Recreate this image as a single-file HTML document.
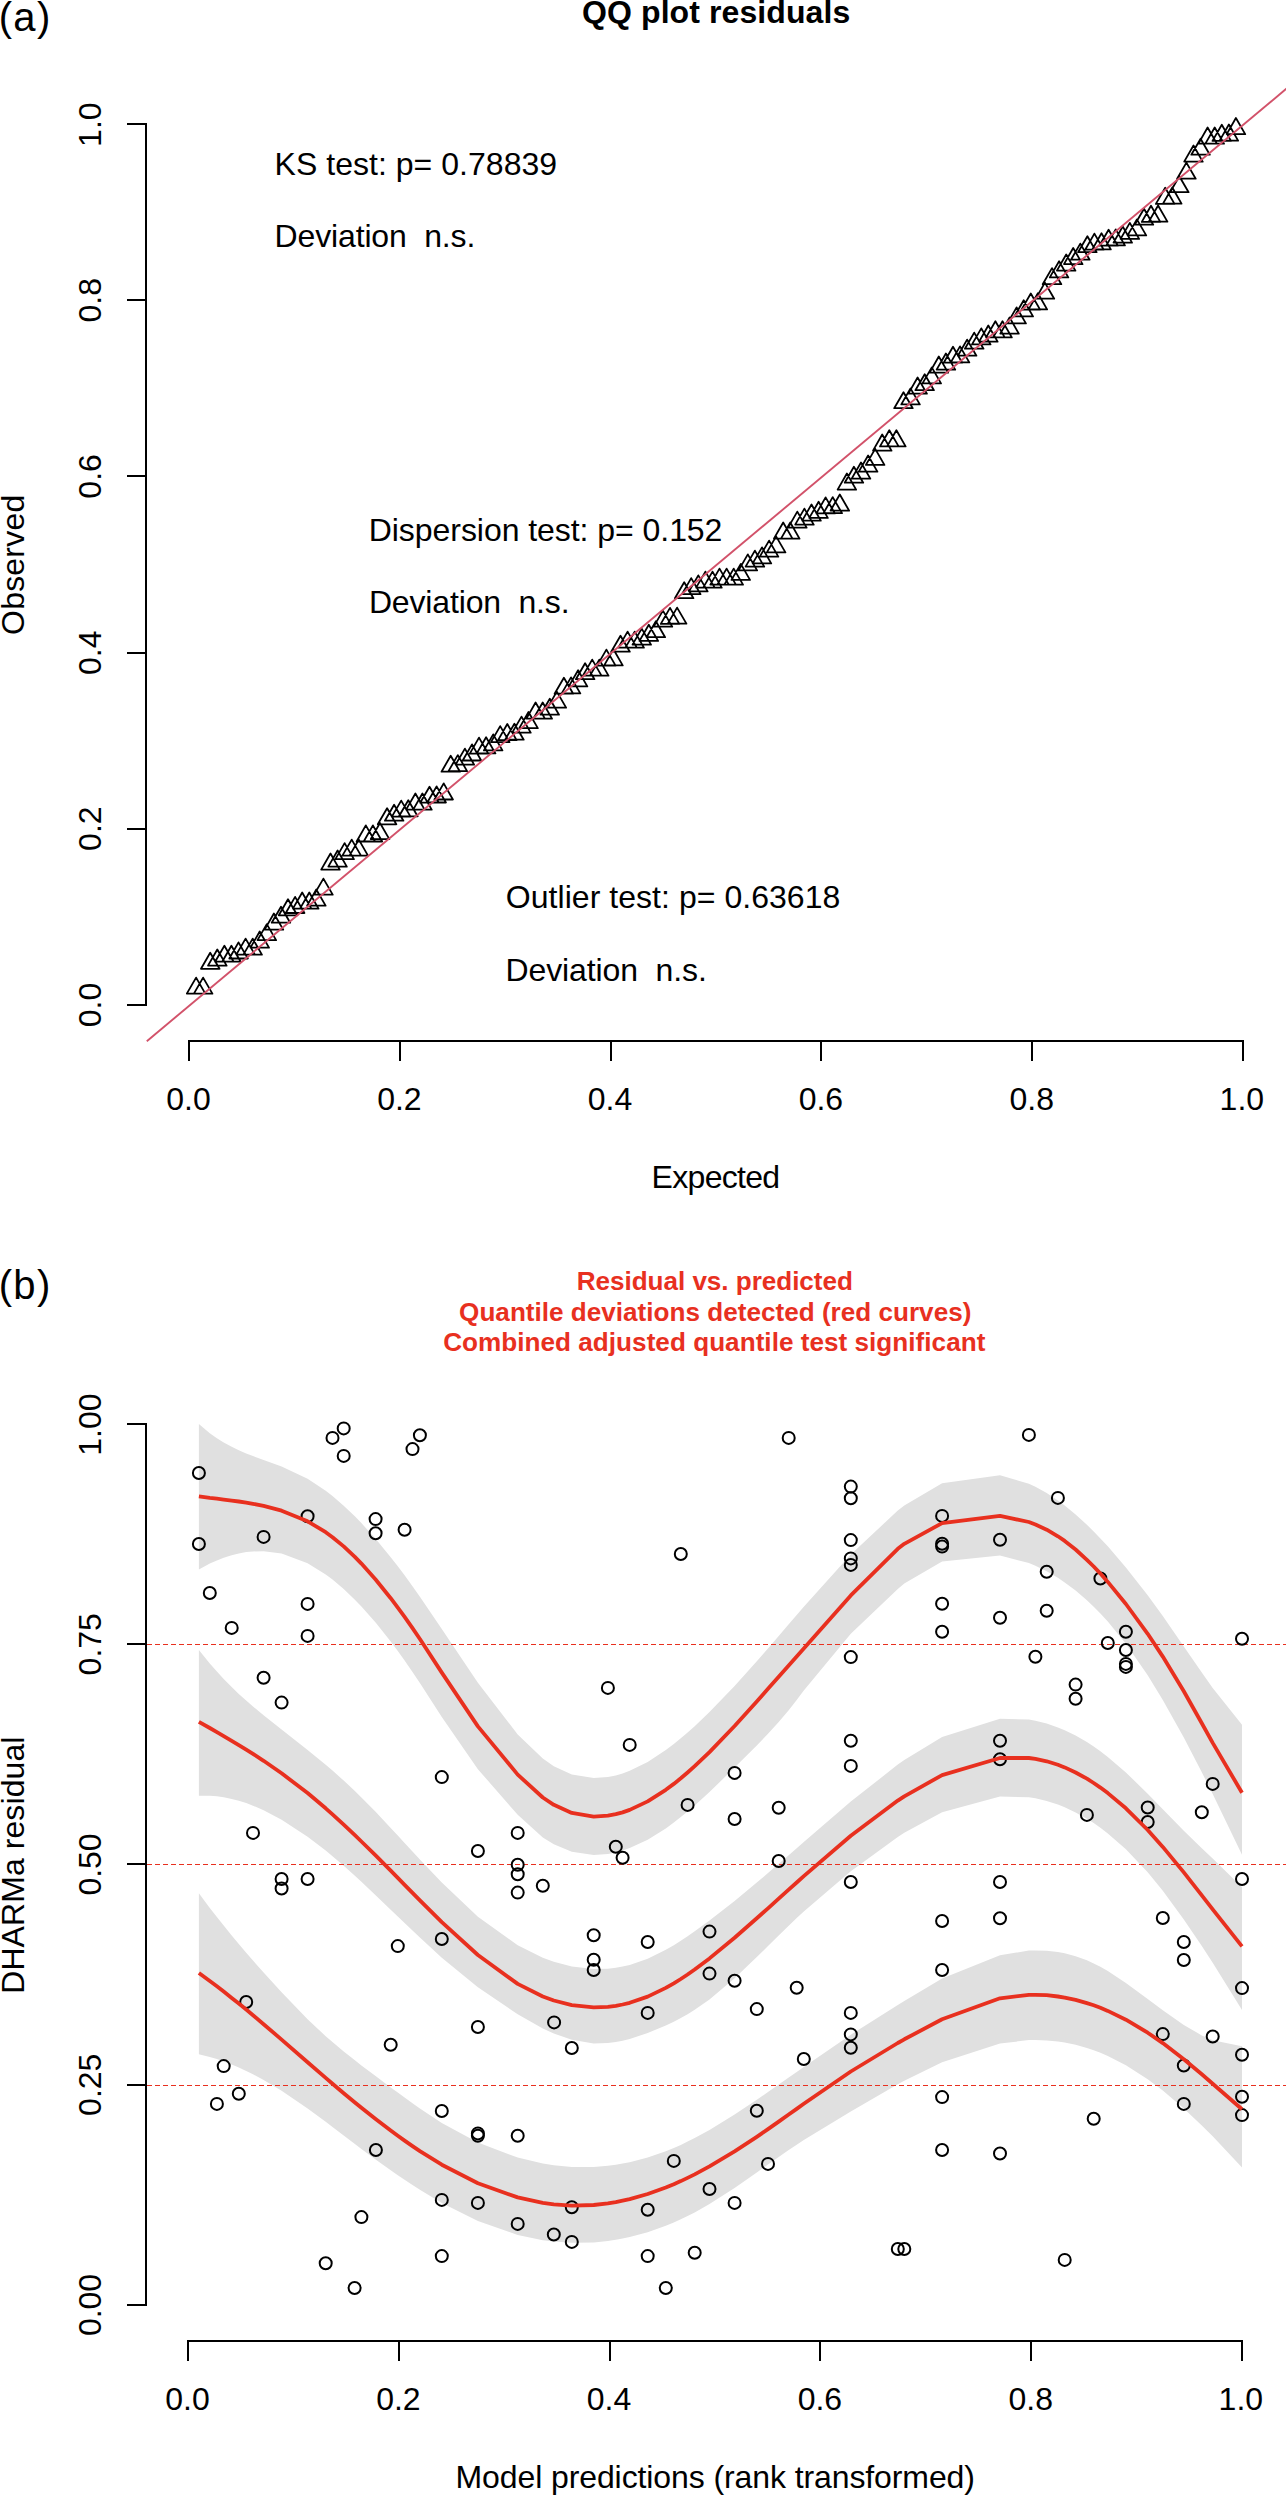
<!DOCTYPE html>
<html><head><meta charset="utf-8"><title>DHARMa residual diagnostics</title>
<style>html,body{margin:0;padding:0;background:#fff}body{width:1286px;height:2502px;overflow:hidden;font-family:"Liberation Sans",sans-serif}svg{display:block}</style>
</head><body>
<svg width="1286" height="2502" viewBox="0 0 1286 2502" font-family="Liberation Sans, sans-serif">
<rect width="1286" height="2502" fill="#fff"/>
<path d="M196.1 977.6L205.3 993.6L186.8 993.6ZM203.1 977.6L212.4 993.6L193.9 993.6ZM210.2 952.8L219.5 968.8L201 968.8ZM217.3 949.5L226.6 965.6L208 965.6ZM224.4 945.7L233.6 961.7L215.1 961.7ZM231.4 945.7L240.7 961.7L222.2 961.7ZM238.5 942.4L247.8 958.5L229.3 958.5ZM245.6 938.6L254.9 954.6L236.3 954.6ZM252.7 938.6L261.9 954.6L243.4 954.6ZM259.7 931.5L269 947.6L250.5 947.6ZM266.8 924.1L276.1 940.1L257.5 940.1ZM273.9 913.5L283.2 929.6L264.6 929.6ZM281 906.7L290.2 922.7L271.7 922.7ZM288 899.3L297.3 915.3L278.8 915.3ZM295.1 896.9L304.4 913L285.8 913ZM302.2 892.5L311.4 908.6L292.9 908.6ZM309.3 892.5L318.5 908.6L300 908.6ZM316.3 889.5L325.6 905.6L307.1 905.6ZM323.4 878.6L332.7 894.6L314.1 894.6ZM330.5 853.5L339.7 869.6L321.2 869.6ZM337.6 850.5L346.8 866.6L328.3 866.6ZM344.6 843.1L353.9 859.1L335.4 859.1ZM351.7 839.6L361 855.6L342.4 855.6ZM358.8 839.6L368 855.6L349.5 855.6ZM365.8 825.4L375.1 841.5L356.6 841.5ZM372.9 825.4L382.2 841.5L363.7 841.5ZM380 823L389.3 839.1L370.7 839.1ZM387.1 808.3L396.3 824.3L377.8 824.3ZM394.1 804.7L403.4 820.7L384.9 820.7ZM401.2 800.6L410.5 816.6L391.9 816.6ZM408.3 800.3L417.6 816.3L399 816.3ZM415.4 793.5L424.6 809.6L406.1 809.6ZM422.4 793.5L431.7 809.6L413.2 809.6ZM429.5 786.7L438.8 802.7L420.2 802.7ZM436.6 786.4L445.9 802.5L427.3 802.5ZM443.7 783.4L452.9 799.5L434.4 799.5ZM450.7 755.7L460 771.7L441.5 771.7ZM457.8 755.1L467.1 771.1L448.5 771.1ZM464.9 748.6L474.1 764.6L455.6 764.6ZM472 744.4L481.2 760.5L462.7 760.5ZM479 737.6L488.3 753.6L469.8 753.6ZM486.1 737.3L495.4 753.4L476.8 753.4ZM493.2 734.4L502.4 750.4L483.9 750.4ZM500.2 726.1L509.5 742.1L491 742.1ZM507.3 724L516.6 740.1L498.1 740.1ZM514.4 723.7L523.7 739.7L505.1 739.7ZM521.5 716.6L530.7 732.6L512.2 732.6ZM528.5 712L537.8 728.1L519.3 728.1ZM535.6 702.5L544.9 718.6L526.4 718.6ZM542.7 702.5L552 718.6L533.4 718.6ZM549.8 698.7L559 714.7L540.5 714.7ZM556.8 691.6L566.1 707.6L547.6 707.6ZM563.9 677.7L573.2 693.7L554.6 693.7ZM571 677.4L580.3 693.4L561.7 693.4ZM578.1 670.3L587.3 686.4L568.8 686.4ZM585.1 663.2L594.4 679.2L575.9 679.2ZM592.2 659.6L601.5 675.6L582.9 675.6ZM599.3 659.6L608.5 675.6L590 675.6ZM606.4 649.6L615.6 665.6L597.1 665.6ZM613.4 649.3L622.7 665.4L604.2 665.4ZM620.5 635.7L629.8 651.7L611.2 651.7ZM627.6 631.6L636.8 647.6L618.3 647.6ZM634.7 631.6L643.9 647.6L625.4 647.6ZM641.7 628.6L651 644.6L632.5 644.6ZM648.8 624.8L658.1 640.9L639.5 640.9ZM655.9 621.2L665.1 637.2L646.6 637.2ZM662.9 610.6L672.2 626.6L653.7 626.6ZM670 607.9L679.3 623.9L660.8 623.9ZM677.1 607.6L686.4 623.6L667.8 623.6ZM684.2 582.2L693.4 598.2L674.9 598.2ZM691.2 578.1L700.5 594.1L682 594.1ZM698.3 575.4L707.6 591.4L689 591.4ZM705.4 571.6L714.7 587.6L696.1 587.6ZM712.5 571.6L721.7 587.6L703.2 587.6ZM719.5 568.6L728.8 584.6L710.3 584.6ZM726.6 568.6L735.9 584.6L717.3 584.6ZM733.7 568.6L743 584.6L724.4 584.6ZM740.8 563.9L750 579.9L731.5 579.9ZM747.8 554.4L757.1 570.4L738.6 570.4ZM754.9 550.6L764.2 566.6L745.6 566.6ZM762 547.4L771.2 563.4L752.7 563.4ZM769.1 540.6L778.3 556.6L759.8 556.6ZM776.1 536.4L785.4 552.4L766.9 552.4ZM783.2 522.5L792.5 538.6L773.9 538.6ZM790.3 522.5L799.5 538.6L781 538.6ZM797.3 511.6L806.6 527.6L788.1 527.6ZM804.4 508.6L813.7 524.6L795.2 524.6ZM811.5 504.5L820.8 520.6L802.2 520.6ZM818.6 501.8L827.8 517.9L809.3 517.9ZM825.6 497.4L834.9 513.4L816.4 513.4ZM832.7 497.1L842 513.1L823.5 513.1ZM839.8 494.5L849.1 510.6L830.5 510.6ZM846.9 473.5L856.1 489.6L837.6 489.6ZM853.9 466.7L863.2 482.7L844.7 482.7ZM861 462.5L870.3 478.6L851.7 478.6ZM868.1 455.5L877.4 471.6L858.8 471.6ZM875.2 448.9L884.4 464.9L865.9 464.9ZM882.2 434.5L891.5 450.6L873 450.6ZM889.3 430.3L898.6 446.4L880 446.4ZM896.4 430.3L905.6 446.4L887.1 446.4ZM903.5 392.2L912.7 408.2L894.2 408.2ZM910.5 388.4L919.8 404.4L901.3 404.4ZM917.6 377.5L926.9 393.6L908.3 393.6ZM924.7 374.2L933.9 390.2L915.4 390.2ZM931.8 367.4L941 383.4L922.5 383.4ZM938.8 356.5L948.1 372.6L929.6 372.6ZM945.9 353.5L955.2 369.6L936.6 369.6ZM953 346.7L962.2 362.7L943.7 362.7ZM960 346.4L969.3 362.4L950.8 362.4ZM967.1 339.6L976.4 355.7L957.9 355.7ZM974.2 332.6L983.5 348.7L964.9 348.7ZM981.3 328.4L990.5 344.4L972 344.4ZM988.3 325.5L997.6 341.6L979.1 341.6ZM995.4 321.3L1004.7 337.4L986.1 337.4ZM1002.5 321.3L1011.8 337.4L993.2 337.4ZM1009.6 317.5L1018.8 333.6L1000.3 333.6ZM1016.6 307.4L1025.9 323.4L1007.4 323.4ZM1023.7 300.3L1033 316.4L1014.4 316.4ZM1030.8 293.5L1040.1 309.6L1021.5 309.6ZM1037.9 293.3L1047.1 309.4L1028.6 309.4ZM1044.9 282.6L1054.2 298.7L1035.7 298.7ZM1052 268.1L1061.3 284.2L1042.7 284.2ZM1059.1 261.3L1068.3 277.4L1049.8 277.4ZM1066.2 254.5L1075.4 270.6L1056.9 270.6ZM1073.2 248L1082.5 264.1L1064 264.1ZM1080.3 243.6L1089.6 259.7L1071 259.7ZM1087.4 236.2L1096.6 252.2L1078.1 252.2ZM1094.4 233.6L1103.7 249.7L1085.2 249.7ZM1101.5 233.3L1110.8 249.4L1092.3 249.4ZM1108.6 229.7L1117.9 245.7L1099.3 245.7ZM1115.7 229.4L1124.9 245.4L1106.4 245.4ZM1122.7 226.5L1132 242.6L1113.5 242.6ZM1129.8 222.9L1139.1 238.9L1120.6 238.9ZM1136.9 219.4L1146.2 235.4L1127.6 235.4ZM1144 208.7L1153.2 224.7L1134.7 224.7ZM1151 205.8L1160.3 221.9L1141.8 221.9ZM1158.1 205.5L1167.4 221.6L1148.8 221.6ZM1165.2 187.8L1174.5 203.9L1155.9 203.9ZM1172.3 187.5L1181.5 203.6L1163 203.6ZM1179.3 176.2L1188.6 192.2L1170.1 192.2ZM1186.4 162.6L1195.7 178.7L1177.1 178.7ZM1193.5 145.5L1202.7 161.6L1184.2 161.6ZM1200.6 138.7L1209.8 154.7L1191.3 154.7ZM1207.6 127.5L1216.9 143.6L1198.4 143.6ZM1214.7 127.5L1224 143.6L1205.4 143.6ZM1221.8 124.8L1231 140.9L1212.5 140.9ZM1228.9 124.5L1238.1 140.6L1219.6 140.6ZM1235.9 118L1245.2 134.1L1226.7 134.1Z" fill="none" stroke="#000" stroke-width="1.8" stroke-linejoin="round"/>
<line x1="146.8" y1="1041.2" x2="1290" y2="85.7" stroke="#D2526A" stroke-width="1.9"/>
<g stroke="#000" stroke-width="2" fill="none" shape-rendering="crispEdges"><path d="M146 123V1006" /><path d="M127 1005H146"/><path d="M127 829H146"/><path d="M127 653H146"/><path d="M127 476H146"/><path d="M127 300H146"/><path d="M127 124H146"/><path d="M188 1041H1244"/><path d="M189 1041V1061"/><path d="M400 1041V1061"/><path d="M611 1041V1061"/><path d="M821 1041V1061"/><path d="M1032 1041V1061"/><path d="M1243 1041V1061"/></g>
<g fill="#000">
<text x="166.25" y="1110.3" font-size="32">0.0</text>
<text transform="translate(101 1027.25) rotate(-90)" font-size="32">0.0</text>
<text x="377.18" y="1110.3" font-size="32">0.2</text>
<text transform="translate(101 850.92) rotate(-90)" font-size="32">0.2</text>
<text x="587.73" y="1110.3" font-size="32">0.4</text>
<text transform="translate(101 674.97) rotate(-90)" font-size="32">0.4</text>
<text x="798.65" y="1110.3" font-size="32">0.6</text>
<text transform="translate(101 498.65) rotate(-90)" font-size="32">0.6</text>
<text x="1009.45" y="1110.3" font-size="32">0.8</text>
<text transform="translate(101 322.45) rotate(-90)" font-size="32">0.8</text>
<text x="1219.62" y="1110.3" font-size="32">1.0</text>
<text transform="translate(101 146.88) rotate(-90)" font-size="32">1.0</text>
<text x="651.60" y="1187.5" font-size="32" textLength="128.52">Expected</text>
<text transform="translate(24.1 634.90) rotate(-90)" font-size="32" textLength="140.08">Observed</text>
<text x="582.05" y="22.5" font-size="32" font-weight="bold" textLength="268.17">QQ plot residuals</text>
<text x="-1.30" y="30.5" font-size="40" textLength="51.54">(a)</text>
<text x="274.60" y="174.6" font-size="32" textLength="282.48">KS test: p= 0.78839</text>
<text x="274.60" y="246.8" font-size="32" textLength="200.67">Deviation  n.s.</text>
<text x="368.70" y="540.6" font-size="32" textLength="353.72">Dispersion test: p= 0.152</text>
<text x="368.90" y="612.8" font-size="32" textLength="200.67">Deviation  n.s.</text>
<text x="505.80" y="907.6" font-size="32" textLength="334.50">Outlier test: p= 0.63618</text>
<text x="505.50" y="980.6" font-size="32" textLength="201.27">Deviation  n.s.</text>
</g>
<path d="M198.9 1424L209.8 1433.2L216.9 1438.2L223.7 1442.4L231.7 1446.8L238.8 1450.2L246.2 1453.4L253 1456.1L263.6 1460L281.6 1466.6L307.6 1478.8L325.7 1490.7L332.5 1496L343.7 1505.7L354.6 1516.1L361.4 1523.1L375.6 1538.8L390.7 1557.2L397.8 1566.3L404.6 1575.3L412.5 1586.2L419.9 1596.7L441.8 1628.9L477.9 1682.7L517.7 1734.4L542.8 1758.5L553.8 1766.2L571.8 1774.5L593.7 1778.1L607.9 1777.1L615.8 1775.4L622.6 1773.4L629.7 1770.8L647.7 1761.9L665.8 1750.1L673.8 1744L680.8 1738.3L687.6 1732.5L694.7 1726.2L709.5 1712.1L734.6 1686L756.8 1661.2L768 1648.4L778.7 1635.9L788.7 1624.3L796.7 1614.9L803.8 1606.7L850.8 1554.4L897.8 1510.6L904.3 1505.6L942.1 1483.2L1000 1475.2L1028.9 1483.8L1035.4 1486.8L1046.7 1493.1L1057.9 1500.6L1064.7 1505.6L1075.6 1514.5L1086.9 1524.8L1093.7 1531.5L1100.4 1538.4L1107.8 1546.3L1125.9 1567.4L1147.7 1595.3L1162.8 1616.1L1183.8 1646.4L1201.8 1672.6L1212.7 1688L1242 1724.8L1242 1854.8L1212.7 1794.1L1201.8 1772.2L1183.8 1737.6L1162.8 1700L1147.7 1675.3L1125.9 1643.8L1107.8 1621.6L1100.4 1613.6L1093.7 1606.7L1086.9 1600.3L1075.6 1590.6L1064.7 1582.4L1057.9 1577.8L1046.7 1571.3L1035.4 1565.8L1028.9 1563.1L1000 1555.5L942.1 1561.5L904.3 1583.6L897.8 1589L850.8 1633.8L803.8 1690.6L796.7 1700L788.7 1710.3L778.7 1722.1L768 1733.8L756.8 1745.4L734.6 1767.6L709.5 1792L694.7 1805.4L687.6 1811.5L680.8 1817.1L673.8 1822.5L665.8 1828.4L647.7 1839.7L629.7 1848.1L622.6 1850.6L615.8 1852.5L607.9 1854L593.7 1855L571.8 1851.7L553.8 1844.2L542.8 1837.4L517.7 1814.8L477.9 1769.2L441.8 1717.1L419.9 1683.1L412.5 1672L404.6 1660.6L397.8 1651.1L390.7 1641.6L375.6 1622.6L361.4 1606.5L354.6 1599.5L343.7 1589L332.5 1579.5L325.7 1574.4L307.6 1563.2L281.6 1553.6L263.6 1551.2L253 1551.4L246.2 1552.1L238.8 1553.5L231.7 1555.2L223.7 1557.8L216.9 1560.4L209.8 1563.6L198.9 1569.4Z" fill="#E0E0E0" stroke="none"/>
<path d="M198.9 1650L209.8 1663.5L216.9 1671.6L223.7 1679L231.7 1687.1L238.8 1693.9L246.2 1700.6L253 1706.5L263.6 1715.3L281.6 1729.6L307.6 1750L325.7 1764.8L332.5 1770.6L343.7 1780.6L354.6 1790.7L361.4 1797.4L375.6 1811.8L390.7 1827.9L397.8 1835.5L404.6 1842.9L412.5 1851.5L419.9 1859.5L441.8 1882.6L477.9 1916.7L517.7 1945.2L542.8 1957.7L553.8 1961.7L571.8 1966.5L593.7 1969L607.9 1968.7L615.8 1967.8L622.6 1966.6L629.7 1964.9L647.7 1958.7L665.8 1949.8L673.8 1945.2L680.8 1940.8L687.6 1936.3L694.7 1931.3L709.5 1920.5L734.6 1900.9L756.8 1882.6L768 1873.1L778.7 1863.8L788.7 1855.2L796.7 1848.2L803.8 1842L850.8 1801.6L897.8 1764.6L904.3 1760L942.1 1737L1000 1718.7L1028.9 1719.5L1035.4 1720.7L1046.7 1723.5L1057.9 1727.4L1064.7 1730.2L1075.6 1735.5L1086.9 1742.1L1093.7 1746.5L1100.4 1751.2L1107.8 1756.9L1125.9 1772.4L1147.7 1793.8L1162.8 1809.3L1183.8 1830.7L1201.8 1848.2L1212.7 1858.6L1242 1887.3L1242 2009.9L1212.7 1962.8L1201.8 1946L1183.8 1919.4L1162.8 1890.8L1147.7 1872.3L1125.9 1849.2L1107.8 1833.4L1100.4 1827.8L1093.7 1823.1L1086.9 1818.7L1075.6 1812.4L1064.7 1807.3L1057.9 1804.6L1046.7 1801L1035.4 1798.3L1028.9 1797.3L1000 1796.5L942.1 1812.3L904.3 1832.7L897.8 1836.9L850.8 1871.2L803.8 1911.5L796.7 1918.1L788.7 1925.7L778.7 1935.4L768 1946L756.8 1957.1L734.6 1978.2L709.5 1999.4L694.7 2009.8L687.6 2014.2L680.8 2018L673.8 2021.7L665.8 2025.5L647.7 2033L629.7 2038.9L622.6 2040.7L615.8 2042L607.9 2043.1L593.7 2043.5L571.8 2039.8L553.8 2033.5L542.8 2028.4L517.7 2014.2L477.9 1987.3L441.8 1957.7L419.9 1937.6L412.5 1930.6L404.6 1923.1L397.8 1916.5L390.7 1909.7L375.6 1895.2L361.4 1881.8L354.6 1875.6L343.7 1865.8L332.5 1856.2L325.7 1850.6L307.6 1836.7L281.6 1819.7L263.6 1810.2L253 1805.7L246.2 1803.1L238.8 1800.8L231.7 1798.9L223.7 1797.3L216.9 1796.3L209.8 1795.7L198.9 1795.7Z" fill="#E0E0E0" stroke="none"/>
<path d="M198.9 1893.2L209.8 1907.9L216.9 1917.1L223.7 1925.6L231.7 1935.5L238.8 1944L246.2 1952.7L253 1960.5L263.6 1972.5L281.6 1992.3L307.6 2019.3L325.7 2036.2L332.5 2042.1L343.7 2051.5L354.6 2060.1L361.4 2065.4L375.6 2076.1L390.7 2087.4L397.8 2092.6L404.6 2097.6L412.5 2103.3L419.9 2108.5L441.8 2122.9L477.9 2142.5L517.7 2157.6L542.8 2163.6L553.8 2165.3L571.8 2167L593.7 2167L607.9 2165.8L615.8 2164.8L622.6 2163.6L629.7 2162.2L647.7 2157.5L665.8 2151.3L673.8 2148L680.8 2144.9L687.6 2141.6L694.7 2138L709.5 2129.9L734.6 2114.6L756.8 2099.8L768 2092.1L778.7 2084.6L788.7 2077.5L796.7 2071.9L803.8 2066.9L850.8 2034.7L897.8 2004.9L904.3 2000.9L942.1 1978.6L1000 1955.2L1028.9 1950.6L1035.4 1950.4L1046.7 1950.7L1057.9 1952L1064.7 1953.3L1075.6 1956.2L1086.9 1960.3L1093.7 1963.4L1100.4 1966.8L1107.8 1971L1125.9 1982.9L1147.7 1999L1162.8 2010.3L1183.8 2024.9L1201.8 2035.4L1212.7 2040.3L1242 2046.3L1242 2167.4L1212.7 2136.3L1201.8 2125.5L1183.8 2108.5L1162.8 2090.6L1147.7 2079.2L1125.9 2065.2L1107.8 2055.9L1100.4 2052.8L1093.7 2050.2L1086.9 2048L1075.6 2044.8L1064.7 2042.6L1057.9 2041.5L1046.7 2040.4L1035.4 2040L1028.9 2040.1L1000 2043.5L942.1 2062.3L904.3 2080.8L897.8 2084.3L850.8 2111.4L803.8 2140.1L796.7 2144.7L788.7 2150.1L778.7 2157L768 2164.5L756.8 2172.4L734.6 2187.9L709.5 2204L694.7 2212.4L687.6 2216L680.8 2219.3L673.8 2222.4L665.8 2225.7L647.7 2232.2L629.7 2237L622.6 2238.6L615.8 2239.8L607.9 2241L593.7 2242.4L571.8 2242.8L553.8 2241.6L542.8 2240.2L517.7 2234.9L477.9 2221.1L441.8 2203L419.9 2189.8L412.5 2185L404.6 2179.8L397.8 2175.2L390.7 2170.2L375.6 2159.4L361.4 2148.9L354.6 2143.8L343.7 2135.5L332.5 2126.9L325.7 2121.8L307.6 2108.4L281.6 2090.7L263.6 2080L253 2074.3L246.2 2071L238.8 2067.5L231.7 2064.5L223.7 2061.5L216.9 2059.1L209.8 2057L198.9 2054.2Z" fill="#E0E0E0" stroke="none"/>
<path d="M147 2085.5H1290" stroke="#E8301F" stroke-width="1" stroke-dasharray="5 3" fill="none" shape-rendering="crispEdges"/>
<path d="M147 1864.5H1290" stroke="#E8301F" stroke-width="1" stroke-dasharray="5 3" fill="none" shape-rendering="crispEdges"/>
<path d="M147 1644.5H1290" stroke="#E8301F" stroke-width="1" stroke-dasharray="5 3" fill="none" shape-rendering="crispEdges"/>
<g fill="none" stroke="#000" stroke-width="2"><circle cx="198.9" cy="1473" r="6"/><circle cx="198.9" cy="1544" r="6"/><circle cx="209.8" cy="1593" r="6"/><circle cx="231.7" cy="1627.9" r="6"/><circle cx="263.6" cy="1536.9" r="6"/><circle cx="263.6" cy="1677.8" r="6"/><circle cx="281.6" cy="1702.6" r="6"/><circle cx="307.6" cy="1516.2" r="6"/><circle cx="307.6" cy="1603.9" r="6"/><circle cx="307.6" cy="1635.9" r="6"/><circle cx="332.5" cy="1437.9" r="6"/><circle cx="343.7" cy="1428.4" r="6"/><circle cx="343.7" cy="1455.9" r="6"/><circle cx="375.6" cy="1519.1" r="6"/><circle cx="375.6" cy="1533.3" r="6"/><circle cx="404.6" cy="1529.8" r="6"/><circle cx="412.5" cy="1449.1" r="6"/><circle cx="419.9" cy="1435.2" r="6"/><circle cx="253" cy="1832.9" r="6"/><circle cx="281.6" cy="1879" r="6"/><circle cx="281.6" cy="1888.5" r="6"/><circle cx="307.6" cy="1879" r="6"/><circle cx="441.8" cy="1777.1" r="6"/><circle cx="517.7" cy="1832.9" r="6"/><circle cx="477.9" cy="1851" r="6"/><circle cx="517.7" cy="1864.8" r="6"/><circle cx="517.7" cy="1874.3" r="6"/><circle cx="517.7" cy="1892.6" r="6"/><circle cx="397.8" cy="1946.1" r="6"/><circle cx="441.8" cy="1939" r="6"/><circle cx="246.2" cy="2002" r="6"/><circle cx="477.9" cy="2027" r="6"/><circle cx="223.7" cy="2066.1" r="6"/><circle cx="238.8" cy="2093.8" r="6"/><circle cx="216.9" cy="2103.9" r="6"/><circle cx="390.7" cy="2044.8" r="6"/><circle cx="441.8" cy="2111" r="6"/><circle cx="477.9" cy="2133.4" r="6"/><circle cx="477.9" cy="2135.8" r="6"/><circle cx="517.7" cy="2135.8" r="6"/><circle cx="375.9" cy="2150" r="6"/><circle cx="441.8" cy="2199.9" r="6"/><circle cx="477.9" cy="2202.9" r="6"/><circle cx="517.7" cy="2223.9" r="6"/><circle cx="361.4" cy="2217.1" r="6"/><circle cx="441.8" cy="2256.1" r="6"/><circle cx="325.7" cy="2263.2" r="6"/><circle cx="354.6" cy="2288" r="6"/><circle cx="788.7" cy="1437.9" r="6"/><circle cx="850.8" cy="1486.6" r="6"/><circle cx="850.8" cy="1498.2" r="6"/><circle cx="850.8" cy="1540.1" r="6"/><circle cx="850.8" cy="1558.4" r="6"/><circle cx="850.8" cy="1564.9" r="6"/><circle cx="850.8" cy="1657.1" r="6"/><circle cx="680.8" cy="1554" r="6"/><circle cx="607.9" cy="1687.9" r="6"/><circle cx="629.7" cy="1744.9" r="6"/><circle cx="734.6" cy="1772.9" r="6"/><circle cx="687.6" cy="1804.9" r="6"/><circle cx="734.6" cy="1819" r="6"/><circle cx="778.7" cy="1807.8" r="6"/><circle cx="850.8" cy="1740.7" r="6"/><circle cx="850.8" cy="1765.9" r="6"/><circle cx="615.8" cy="1846.8" r="6"/><circle cx="622.6" cy="1857.8" r="6"/><circle cx="778.7" cy="1861" r="6"/><circle cx="850.8" cy="1882" r="6"/><circle cx="542.8" cy="1885.8" r="6"/><circle cx="593.7" cy="1935.2" r="6"/><circle cx="593.7" cy="1959.7" r="6"/><circle cx="593.7" cy="1970" r="6"/><circle cx="647.7" cy="1942" r="6"/><circle cx="709.5" cy="1931.6" r="6"/><circle cx="709.5" cy="1973.6" r="6"/><circle cx="734.6" cy="1980.7" r="6"/><circle cx="796.7" cy="1987.8" r="6"/><circle cx="756.8" cy="2009.1" r="6"/><circle cx="647.7" cy="2012.9" r="6"/><circle cx="554.1" cy="2022.4" r="6"/><circle cx="850.8" cy="2012.9" r="6"/><circle cx="850.8" cy="2034.4" r="6"/><circle cx="571.8" cy="2048" r="6"/><circle cx="850.8" cy="2047.7" r="6"/><circle cx="803.8" cy="2059" r="6"/><circle cx="756.8" cy="2110.7" r="6"/><circle cx="673.8" cy="2160.9" r="6"/><circle cx="768" cy="2163.9" r="6"/><circle cx="709.5" cy="2189" r="6"/><circle cx="734.6" cy="2202.9" r="6"/><circle cx="571.8" cy="2207.3" r="6"/><circle cx="647.7" cy="2209.7" r="6"/><circle cx="553.8" cy="2234.5" r="6"/><circle cx="571.8" cy="2241.9" r="6"/><circle cx="647.7" cy="2256.1" r="6"/><circle cx="694.7" cy="2252.8" r="6"/><circle cx="665.8" cy="2288" r="6"/><circle cx="897.8" cy="2249" r="6"/><circle cx="904.3" cy="2249" r="6"/><circle cx="1028.9" cy="1434.9" r="6"/><circle cx="1057.9" cy="1497.9" r="6"/><circle cx="942.1" cy="1515.9" r="6"/><circle cx="942.1" cy="1543.7" r="6"/><circle cx="942.1" cy="1546.6" r="6"/><circle cx="942.1" cy="1603.7" r="6"/><circle cx="942.1" cy="1631.7" r="6"/><circle cx="1000" cy="1539.8" r="6"/><circle cx="1000" cy="1617.8" r="6"/><circle cx="1046.7" cy="1571.7" r="6"/><circle cx="1046.7" cy="1610.7" r="6"/><circle cx="1100.4" cy="1578.5" r="6"/><circle cx="1035.4" cy="1656.8" r="6"/><circle cx="1107.8" cy="1643" r="6"/><circle cx="1125.9" cy="1631.7" r="6"/><circle cx="1125.9" cy="1650" r="6"/><circle cx="1125.9" cy="1663.9" r="6"/><circle cx="1125.9" cy="1666.9" r="6"/><circle cx="1075.6" cy="1684.6" r="6"/><circle cx="1075.6" cy="1698.8" r="6"/><circle cx="1242" cy="1638.8" r="6"/><circle cx="1000" cy="1740.7" r="6"/><circle cx="1000" cy="1759.3" r="6"/><circle cx="1000" cy="1882" r="6"/><circle cx="1000" cy="1918.3" r="6"/><circle cx="942.1" cy="1921" r="6"/><circle cx="942.1" cy="1970" r="6"/><circle cx="1086.9" cy="1814.9" r="6"/><circle cx="1147.7" cy="1807.5" r="6"/><circle cx="1147.7" cy="1822" r="6"/><circle cx="1212.7" cy="1783.9" r="6"/><circle cx="1201.8" cy="1812.2" r="6"/><circle cx="1242" cy="1879" r="6"/><circle cx="1162.8" cy="1918" r="6"/><circle cx="1183.8" cy="1942" r="6"/><circle cx="1183.8" cy="1960" r="6"/><circle cx="1242" cy="1988.1" r="6"/><circle cx="1162.8" cy="2034.1" r="6"/><circle cx="1212.7" cy="2036.5" r="6"/><circle cx="1242" cy="2054.8" r="6"/><circle cx="1183.8" cy="2065.5" r="6"/><circle cx="1242" cy="2096.8" r="6"/><circle cx="1183.8" cy="2103.9" r="6"/><circle cx="1242" cy="2115.1" r="6"/><circle cx="942.1" cy="2097.1" r="6"/><circle cx="942.1" cy="2150" r="6"/><circle cx="1000" cy="2153.5" r="6"/><circle cx="1093.7" cy="2118.7" r="6"/><circle cx="1064.7" cy="2259.9" r="6"/></g>
<path d="M198.9 1496.4L209.8 1497.9L216.9 1498.7L223.7 1499.6L231.7 1500.6L238.8 1501.5L246.2 1502.6L253 1503.8L263.6 1505.9L281.6 1510.7L307.6 1521.3L325.7 1532.2L332.5 1537.2L343.7 1546.4L354.6 1556.6L361.4 1563.6L375.6 1579.5L390.7 1598.2L397.8 1607.6L404.6 1616.9L412.5 1628.2L419.9 1639L441.8 1672.6L477.9 1726.4L517.7 1774.6L542.8 1797.5L553.8 1804.8L571.8 1812.9L593.7 1816.6L607.9 1815.7L615.8 1814.2L622.6 1812.4L629.7 1809.9L647.7 1801.4L665.8 1789.8L673.8 1783.9L680.8 1778.3L687.6 1772.5L694.7 1766.2L709.5 1752.1L734.6 1726L756.8 1701.4L768 1688.8L778.7 1676.7L788.7 1665.4L796.7 1656.4L803.8 1648.5L850.8 1595.4L897.8 1548.8L904.3 1543.8L942.1 1523.1L1000 1515.9L1028.9 1522L1035.4 1524.5L1046.7 1529.7L1057.9 1536.3L1064.7 1540.9L1075.6 1549.5L1086.9 1559.8L1093.7 1566.5L1100.4 1573.6L1107.8 1581.9L1125.9 1604L1147.7 1633.8L1162.8 1656.6L1183.8 1691.3L1201.8 1723.3L1212.7 1742.9L1242 1792.7" fill="none" stroke="#E8301F" stroke-width="3.8" stroke-linejoin="round"/>
<path d="M198.9 1721.8L209.8 1728L216.9 1732.1L223.7 1736.1L231.7 1740.8L238.8 1745.1L246.2 1749.7L253 1753.9L263.6 1760.8L281.6 1773.3L307.6 1793L325.7 1808.3L332.5 1814.4L343.7 1824.6L354.6 1834.9L361.4 1841.5L375.6 1855.4L390.7 1870.6L397.8 1877.9L404.6 1884.8L412.5 1892.9L419.9 1900.4L441.8 1922.1L477.9 1955L517.7 1983.9L542.8 1996.5L553.8 2000.5L571.8 2005.1L593.7 2007.3L607.9 2006.8L615.8 2005.8L622.6 2004.5L629.7 2002.8L647.7 1996.6L665.8 1987.9L673.8 1983.3L680.8 1979L687.6 1974.5L694.7 1969.5L709.5 1958.4L734.6 1937.8L756.8 1918.3L768 1908.3L778.7 1898.6L788.7 1889.6L796.7 1882.5L803.8 1876.1L850.8 1835.7L897.8 1800.6L904.3 1796.3L942.1 1775.1L1000 1758L1028.9 1758L1035.4 1758.9L1046.7 1761.3L1057.9 1764.8L1064.7 1767.4L1075.6 1772.5L1086.9 1778.7L1093.7 1783L1100.4 1787.6L1107.8 1793.1L1125.9 1808.3L1147.7 1830L1162.8 1846.9L1183.8 1872.4L1201.8 1895.3L1212.7 1909.4L1242 1946.4" fill="none" stroke="#E8301F" stroke-width="3.8" stroke-linejoin="round"/>
<path d="M198.9 1973L209.8 1981L216.9 1986.3L223.7 1991.6L231.7 1997.9L238.8 2003.6L246.2 2009.6L253 2015.3L263.6 2024.2L281.6 2039.6L307.6 2062.3L325.7 2077.9L332.5 2083.8L343.7 2093.2L354.6 2102.2L361.4 2107.8L375.6 2119.1L390.7 2130.6L397.8 2135.8L404.6 2140.6L412.5 2146.1L419.9 2151.1L441.8 2164.7L477.9 2183.2L517.7 2197.4L542.8 2202.8L553.8 2204.3L571.8 2205.6L593.7 2205L607.9 2203.4L615.8 2202.1L622.6 2200.7L629.7 2199.1L647.7 2194L665.8 2187.5L673.8 2184.2L680.8 2181.1L687.6 2177.9L694.7 2174.4L709.5 2166.4L734.6 2151.4L756.8 2136.8L768 2129.1L778.7 2121.6L788.7 2114.5L796.7 2108.9L803.8 2103.8L850.8 2071.5L897.8 2043L904.3 2039.3L942.1 2019.3L1000 1998.3L1028.9 1994.8L1035.4 1994.8L1046.7 1995.2L1057.9 1996.5L1064.7 1997.6L1075.6 1999.9L1086.9 2003.1L1093.7 2005.3L1100.4 2007.8L1107.8 2010.9L1125.9 2019.7L1147.7 2032.7L1162.8 2043.1L1183.8 2059.3L1201.8 2074.3L1212.7 2083.7L1242 2109.2" fill="none" stroke="#E8301F" stroke-width="3.8" stroke-linejoin="round"/>
<g stroke="#000" stroke-width="2" fill="none" shape-rendering="crispEdges"><path d="M146 1423V2306" /><path d="M127 2305H146"/><path d="M127 2085H146"/><path d="M127 1864H146"/><path d="M127 1644H146"/><path d="M127 1424H146"/><path d="M187 2341H1243"/><path d="M188 2341V2361"/><path d="M399 2341V2361"/><path d="M610 2341V2361"/><path d="M820 2341V2361"/><path d="M1031 2341V2361"/><path d="M1242 2341V2361"/></g>
<g fill="#000">
<text x="165.25" y="2410.3" font-size="32">0.0</text>
<text x="376.18" y="2410.3" font-size="32">0.2</text>
<text x="586.73" y="2410.3" font-size="32">0.4</text>
<text x="797.65" y="2410.3" font-size="32">0.6</text>
<text x="1008.45" y="2410.3" font-size="32">0.8</text>
<text x="1218.62" y="2410.3" font-size="32">1.0</text>
<text transform="translate(101 2336.12) rotate(-90)" font-size="32">0.00</text>
<text transform="translate(101 2115.88) rotate(-90)" font-size="32">0.25</text>
<text transform="translate(101 1895.62) rotate(-90)" font-size="32">0.50</text>
<text transform="translate(101 1675.38) rotate(-90)" font-size="32">0.75</text>
<text transform="translate(101 1455.75) rotate(-90)" font-size="32">1.00</text>
<text x="455.50" y="2487.6" font-size="32" textLength="519.48">Model predictions (rank transformed)</text>
<text transform="translate(24.1 1993.80) rotate(-90)" font-size="32" textLength="257.18">DHARMa residual</text>
<text x="-1.30" y="1299.4" font-size="40" textLength="51.54">(b)</text>
</g>
<text x="576.75" y="1289.6" font-size="26.1" font-weight="bold" fill="#E8301F" textLength="276.13">Residual vs. predicted</text>
<text x="459.10" y="1320.6" font-size="26.1" font-weight="bold" fill="#E8301F" textLength="512.27">Quantile deviations detected (red curves)</text>
<text x="443.20" y="1351.4" font-size="26.1" font-weight="bold" fill="#E8301F" textLength="542.16">Combined adjusted quantile test significant</text>
</svg>
</body></html>
